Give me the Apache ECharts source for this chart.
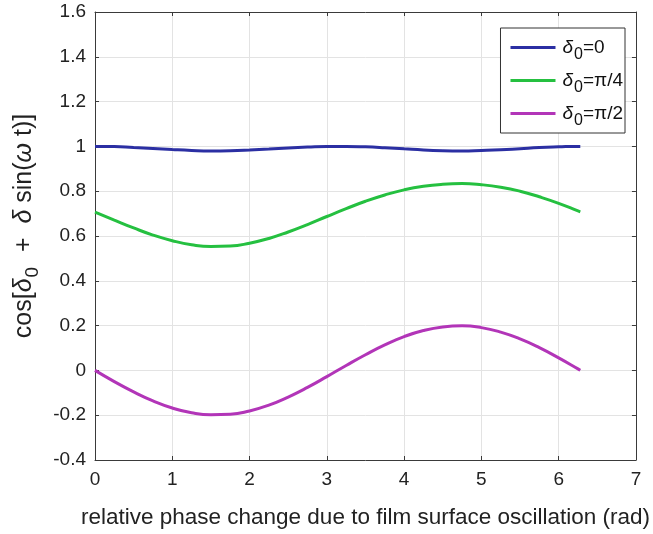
<!DOCTYPE html>
<html>
<head>
<meta charset="utf-8">
<script src="https://cdn.jsdelivr.net/npm/echarts@6/dist/echarts.min.js"></script>
<style>
  html, body { margin: 0; padding: 0; background: #fff; }
  #chart { width: 653px; height: 534px; }
</style>
</head>
<body>
<div id="chart"></div>
<script>
// Relative phase t (rad) sampled over one oscillation period
const phase = [0, 0.25, 0.5, 0.75, 1.0, 1.25, 1.5, 1.75, 2.0, 2.25, 2.5, 2.75, 3.0,
  3.25, 3.5, 3.75, 4.0, 4.25, 4.5, 4.75, 5.0, 5.25, 5.5, 5.75, 6.0, 6.25, 6.28];

// cos[δ0 + δ sin(ωt)] for three static phase offsets
const delta0Zero = [1.000, 0.999, 0.995, 0.991, 0.986, 0.982, 0.980, 0.981, 0.984, 0.988,
  0.993, 0.997, 1.000, 1.000, 0.998, 0.994, 0.989, 0.984, 0.981, 0.980, 0.982, 0.985,
  0.990, 0.995, 0.998, 1.000, 1.000];
const delta0Quarter = [0.707, 0.671, 0.636, 0.604, 0.579, 0.561, 0.553, 0.555, 0.568, 0.589,
  0.618, 0.651, 0.687, 0.722, 0.755, 0.783, 0.806, 0.822, 0.831, 0.834, 0.829, 0.818,
  0.800, 0.775, 0.746, 0.712, 0.708];
const delta0Half = [0.000, -0.050, -0.096, -0.136, -0.168, -0.189, -0.198, -0.196, -0.181,
  -0.155, -0.119, -0.076, -0.028, 0.022, 0.070, 0.114, 0.151, 0.178, 0.194, 0.199, 0.191,
  0.171, 0.141, 0.102, 0.056, 0.007, 0.001];

const seriesNames = ['d0', 'd4', 'd2'];
const seriesLabels = {
  d0: '{d|δ}{s|0}{t|=0}',
  d4: '{d|δ}{s|0}{t|=π/4}',
  d2: '{d|δ}{s|0}{t|=π/2}'
};
const seriesColors = ['#2b2fa3', '#25c040', '#b235b8'];

const xTicks = [0, 1, 2, 3, 4, 5, 6, 7];
const yTickLabels = ['-0.4', '-0.2', '0', '0.2', '0.4', '0.6', '0.8', '1', '1.2', '1.4', '1.6'];

const FONT = '"Liberation Sans", Arial, Helvetica, sans-serif';
const AXIS_COLOR = '#3a3a3a';
const GRID_COLOR = '#e3e3e3';

function pairs(ys) { return phase.map((x, i) => [x, ys[i]]); }

const chart = echarts.init(document.getElementById('chart'), null, { renderer: 'canvas' });

const baseAxis = {
  axisLine: { show: true, onZero: false, lineStyle: { color: AXIS_COLOR, width: 1 } },
  axisTick: { show: true, inside: true, length: 4, lineStyle: { color: AXIS_COLOR } }
};

chart.setOption({
  animation: false,
  backgroundColor: '#fff',
  textStyle: { fontFamily: FONT },
  grid: { left: 95, right: 14, top: 12, bottom: 71, containLabel: false },
  legend: {
    data: seriesNames,
    orient: 'vertical',
    right: 28,
    top: 28,
    padding: [10, 2, 4, 10],
    itemGap: 8,
    itemWidth: 45,
    itemHeight: 3,
    icon: 'rect',
    backgroundColor: '#fff',
    borderColor: '#333',
    borderWidth: 1,
    formatter: name => seriesLabels[name],
    textStyle: {
      fontFamily: FONT,
      color: '#111',
      rich: {
        d: { fontSize: 19, fontStyle: 'italic', fontFamily: FONT, color: '#111', padding: [0, 0, 0, 2] },
        s: { fontSize: 16, fontFamily: FONT, color: '#111', padding: [15, 0, 0, 1] },
        t: { fontSize: 19, fontFamily: FONT, color: '#111' }
      }
    }
  },
  xAxis: [{
    ...baseAxis,
    type: 'value',
    min: 0, max: 7, interval: 1,
    position: 'bottom',
    name: 'relative phase change due to film surface oscillation (rad)',
    nameLocation: 'middle',
    nameGap: 46,
    nameTextStyle: { fontSize: 22.5, color: '#222', fontFamily: FONT },
    axisLabel: { fontSize: 19, color: '#222', margin: 10, fontFamily: FONT,
      formatter: v => xTicks.includes(v) ? String(v) : '' },
    splitLine: { show: true, lineStyle: { color: GRID_COLOR, width: 1 } }
  }, {
    ...baseAxis,
    type: 'value',
    min: 0, max: 7, interval: 1,
    position: 'top',
    axisLabel: { show: false },
    splitLine: { show: false }
  }],
  yAxis: [{
    ...baseAxis,
    type: 'value',
    min: -0.4, max: 1.6, interval: 0.2,
    position: 'left',
    name: '{a|cos[}{d|δ}{s|0}{a|  +  }{d|δ}{a| sin(}{d|ω}{a| t)]}',
    nameLocation: 'middle',
    nameRotate: 90,
    nameGap: 47,
    nameTextStyle: {
      color: '#222',
      padding: [0, 0, 0, 20],
      rich: {
        a: { fontSize: 25, fontFamily: FONT, color: '#222' },
        d: { fontSize: 25, fontStyle: 'italic', fontFamily: FONT, color: '#222' },
        s: { fontSize: 19, fontFamily: FONT, color: '#222', padding: [18, 1, 0, 1] }
      }
    },
    axisLabel: { fontSize: 19, color: '#222', margin: 9, fontFamily: FONT,
      padding: [3, 0, 0, 0],
      formatter: v => {
        const idx = Math.round((v + 0.4) / 0.2);
        return yTickLabels[idx] !== undefined ? yTickLabels[idx] : '';
      } },
    splitLine: { show: true, lineStyle: { color: GRID_COLOR, width: 1 } }
  }, {
    ...baseAxis,
    type: 'value',
    min: -0.4, max: 1.6, interval: 0.2,
    position: 'right',
    axisLabel: { show: false },
    splitLine: { show: false }
  }],
  series: [
    { name: 'd0', data: pairs(delta0Zero) },
    { name: 'd4', data: pairs(delta0Quarter) },
    { name: 'd2', data: pairs(delta0Half) }
  ].map((s, i) => ({
    ...s,
    type: 'line',
    xAxisIndex: 0,
    yAxisIndex: 0,
    smooth: true,
    showSymbol: false,
    symbol: 'none',
    color: seriesColors[i],
    lineStyle: { color: seriesColors[i], width: 3 },
    emphasis: { disabled: true }
  }))
});
</script>
</body>
</html>
